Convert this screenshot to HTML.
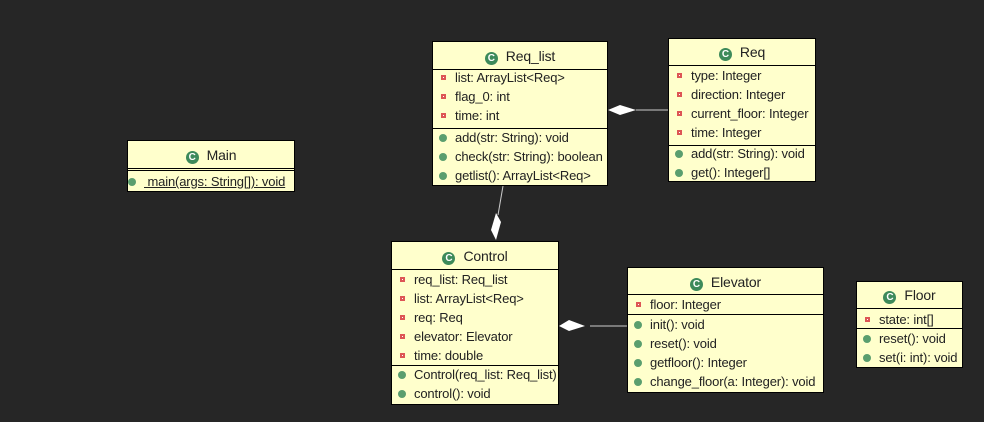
<!DOCTYPE html>
<html><head><meta charset="utf-8"><style>
body{margin:0;width:984px;height:422px;background:#262626;position:relative;overflow:hidden;font-family:"Liberation Sans",sans-serif;font-size:13px;color:#222;letter-spacing:-0.15px;}
.b{position:absolute;background:#ffffcc;border:1px solid #000;box-sizing:border-box;}
.h{position:absolute;left:0;right:0;text-align:center;font-size:14px;line-height:16px;}
.h i{display:inline-block;width:13px;height:13px;border-radius:50%;background:#3d8a5a;color:#fff;font-style:normal;font-size:10px;font-weight:bold;line-height:13px;text-align:center;vertical-align:0px;margin-right:8px;}
.l{position:absolute;left:0;right:0;border-top:1px solid #000;}
.r{position:absolute;left:22px;white-space:nowrap;line-height:15px;}
.r:before{content:"";position:absolute;left:-14px;top:5px;}
.a:before{background:#fff;border:2px solid #d55;width:1px;height:1px;}
.m:before{background:#5a9e6e;border-radius:50%;width:8px;height:8px;left:-16px;top:4px;}
svg{position:absolute;left:0;top:0;}
</style></head><body>
<svg width="984" height="422">
<line x1="636" y1="110" x2="668" y2="110" stroke="#ccc"/>
<polygon points="608,110 620,105 636,110 620,115" fill="#fff"/>
<line x1="503" y1="186" x2="498" y2="215" stroke="#ccc"/>
<polygon points="496,213 501,222 496,240 491,230" fill="#fff"/>
<line x1="590" y1="326" x2="627" y2="326" stroke="#ccc"/>
<polygon points="559,326 569,320 585,326 569,331" fill="#fff"/>
</svg>

<div class="b" style="left:432px;top:41px;width:176px;height:145px">
<div class="h" style="top:6px"><i>C</i>Req_list</div>
<div class="l" style="top:27px"></div>
<div class="r a" style="top:28px">list: ArrayList&lt;Req&gt;</div>
<div class="r a" style="top:47px">flag_0: int</div>
<div class="r a" style="top:66px">time: int</div>
<div class="l" style="top:86px"></div>
<div class="r m" style="top:88px">add(str: String): void</div>
<div class="r m" style="top:107px">check(str: String): boolean</div>
<div class="r m" style="top:126px">getlist(): ArrayList&lt;Req&gt;</div>
</div>

<div class="b" style="left:668px;top:38px;width:148px;height:144px">
<div class="h" style="top:5px"><i>C</i>Req</div>
<div class="l" style="top:26px"></div>
<div class="r a" style="top:29px">type: Integer</div>
<div class="r a" style="top:48px">direction: Integer</div>
<div class="r a" style="top:67px">current_floor: Integer</div>
<div class="r a" style="top:86px">time: Integer</div>
<div class="l" style="top:106px"></div>
<div class="r m" style="top:107px">add(str: String): void</div>
<div class="r m" style="top:126px">get(): Integer[]</div>
</div>

<div class="b" style="left:127px;top:140px;width:168px;height:52px">
<div class="h" style="top:6px"><i>C</i>Main</div>
<div class="l" style="top:27px"></div>
<div class="l" style="top:29px"></div>
<div class="r m" style="top:33px;left:16px;text-decoration:underline">&nbsp;main(args: String[]): void</div>
</div>

<div class="b" style="left:391px;top:241px;width:168px;height:164px">
<div class="h" style="top:6px"><i>C</i>Control</div>
<div class="l" style="top:27px"></div>
<div class="r a" style="top:30px">req_list: Req_list</div>
<div class="r a" style="top:49px">list: ArrayList&lt;Req&gt;</div>
<div class="r a" style="top:68px">req: Req</div>
<div class="r a" style="top:87px">elevator: Elevator</div>
<div class="r a" style="top:106px">time: double</div>
<div class="l" style="top:123px"></div>
<div class="r m" style="top:125px">Control(req_list: Req_list)</div>
<div class="r m" style="top:144px">control(): void</div>
</div>

<div class="b" style="left:627px;top:267px;width:197px;height:126px">
<div class="h" style="top:6px"><i>C</i>Elevator</div>
<div class="l" style="top:26px"></div>
<div class="r a" style="top:29px">floor: Integer</div>
<div class="l" style="top:46px"></div>
<div class="r m" style="top:49px">init(): void</div>
<div class="r m" style="top:68px">reset(): void</div>
<div class="r m" style="top:87px">getfloor(): Integer</div>
<div class="r m" style="top:106px">change_floor(a: Integer): void</div>
</div>

<div class="b" style="left:856px;top:281px;width:107px;height:87px">
<div class="h" style="top:5px"><i>C</i>Floor</div>
<div class="l" style="top:26px"></div>
<div class="r a" style="top:30px">state: int[]</div>
<div class="l" style="top:46px"></div>
<div class="r m" style="top:49px">reset(): void</div>
<div class="r m" style="top:68px">set(i: int): void</div>
</div>
</body></html>
